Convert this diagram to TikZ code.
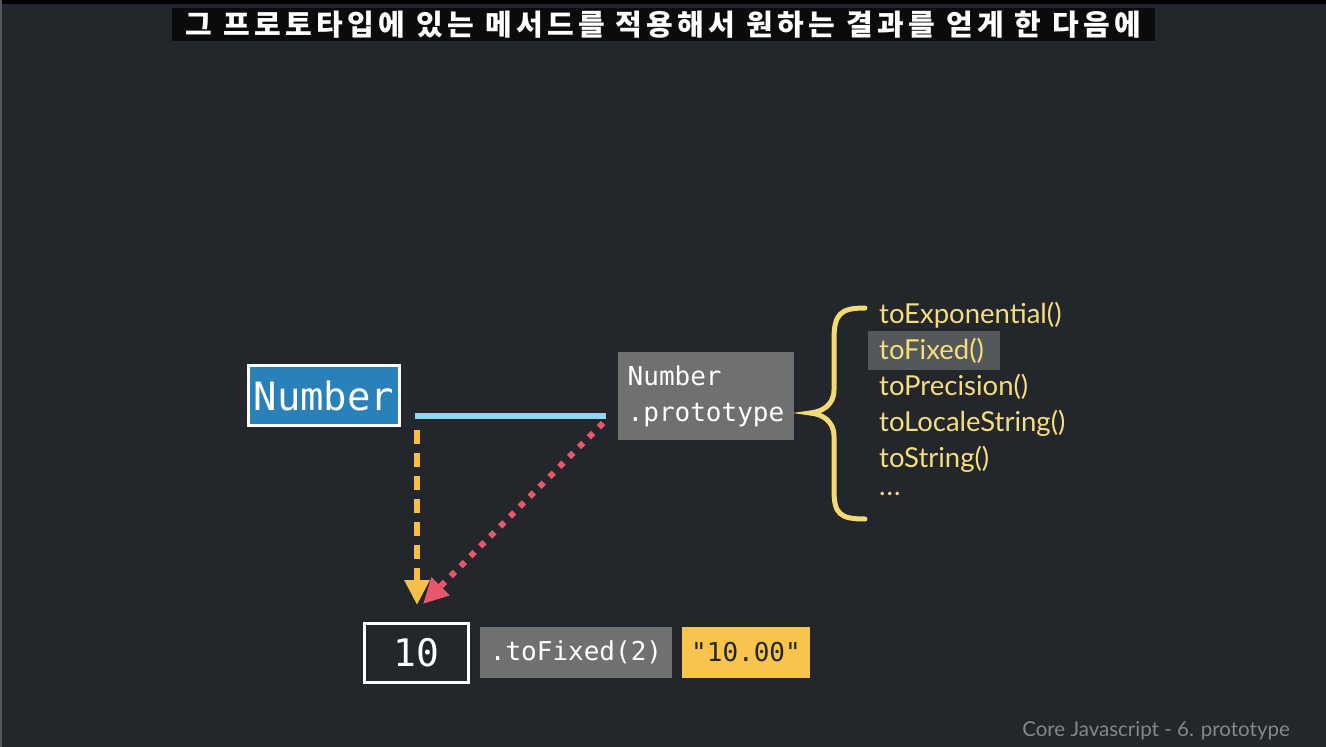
\documentclass[tikz,border=0pt]{standalone}
\usepackage{fontspec}
\usetikzlibrary{arrows.meta,positioning}
\setmonofont{DejaVu Sans Mono}
\newfontfamily\krfont{Noto Sans CJK KR}
\newfontfamily\listfont{Lato}
\definecolor{bgdark}{HTML}{23262A}
\definecolor{capblack}{HTML}{0A0B0C}
\definecolor{numblue}{HTML}{2A80B8}
\definecolor{linkblue}{HTML}{90D5F2}
\definecolor{protogray}{HTML}{6F7171}
\definecolor{hlgray}{HTML}{55585B}
\definecolor{braceyellow}{HTML}{F3DA73}
\definecolor{listyellow}{HTML}{F4DE7E}
\definecolor{arroworange}{HTML}{F6BF47}
\definecolor{arrowred}{HTML}{E9576B}
\definecolor{resultyellow}{HTML}{F8C44B}
\definecolor{footgray}{HTML}{85878A}
\tikzset{
  codebox/.style={inner sep=0pt, text=white, font=\ttfamily\fontsize{26}{36}\selectfont},
  method/.style={anchor=west, inner sep=0pt, text=listyellow, font=\listfont\fontsize{27.5}{27.5}\selectfont},
}
\begin{document}
\begin{tikzpicture}[x=1pt,y=-1pt]
\useasboundingbox (0,0) rectangle (1326,747);
\fill[bgdark] (0,0) rectangle (1326,747);
\fill[black] (0,0) rectangle (1326,4);
\fill[gray!70!black] (0,0) rectangle (2,747);
% caption
\node[fill=capblack, minimum width=983, minimum height=33, inner sep=0pt, text=white,
      font=\krfont\bfseries\fontsize{29}{29}\selectfont\addfontfeature{LetterSpace=15}] (caption) at (663.5,24.5)
  {그 프로토타입에 있는 메서드를 적용해서 원하는 결과를 얻게 한 다음에};
% constructor and prototype
\node[codebox, fill=numblue, draw=white, line width=3pt, minimum width=151, minimum height=60,
      font=\ttfamily\fontsize{39}{39}\selectfont] (num) at (324,395.5) {Number};
\node[codebox, fill=protogray, minimum width=176, minimum height=88, align=left] (proto) at (706,396)
  {Number\\.prototype};
\coordinate (linkL) at (415,416);
\coordinate (linkR) at (606,416);
\draw[linkblue, line width=6pt] (linkL) -- (linkR);
% method list
\draw[braceyellow, line width=5pt, line cap=round]
  (865,308) .. controls (840,308) and (834,314) .. (834,340) -- (834,390)
  .. controls (834,405) and (822,412) .. (810,413)
  .. controls (822,414) and (834,421) .. (834,436) -- (834,490)
  .. controls (834,514) and (840,519) .. (865,519);
\node[fill=hlgray, minimum width=132, minimum height=39, inner sep=0pt] (hl) at (934,350.5) {};
\foreach \name/\y [count=\i] in {toExponential()/315, toFixed()/351, toPrecision()/387,
    toLocaleString()/423, toString()/459}
  \node[method] (m\i) at (879,\y) {\name};
\node[method] (m6) at (879,494) {.\kern1pt.\kern1pt.};
% instance and result
\node[codebox, fill=bgdark, draw=white, line width=3pt, minimum width=104, minimum height=59,
      font=\ttfamily\fontsize{38}{38}\selectfont] (ten) at (416.5,653) {10};
\node[codebox, fill=protogray, minimum width=192, minimum height=51] (call) at (576,652.5) {.toFixed(2)};
\node[codebox, fill=resultyellow, text=bgdark, minimum width=128, minimum height=51] (result) at (746,652.5) {"10.00"};
\coordinate (tipA) at (417,605);
\coordinate (tipB) at (423,604);
\draw[arroworange, line width=6pt, dash pattern=on 14pt off 9pt,
      -{Triangle[length=25pt, width=24pt]}] ([xshift=2,yshift=-14]linkL) -- (tipA);
\draw[arrowred, line width=6pt, dash pattern=on 6pt off 8pt,
      -{Triangle[length=25pt, width=24pt]}] ([xshift=-3,yshift=-7]linkR) -- (tipB);
% footer
\node[text=footgray, font=\listfont\fontsize{20.5}{20.5}\selectfont, anchor=east, inner sep=0pt] (foot) at (1290,731)
  {Core Javascript - 6. prototype};
\end{tikzpicture}
\end{document}
